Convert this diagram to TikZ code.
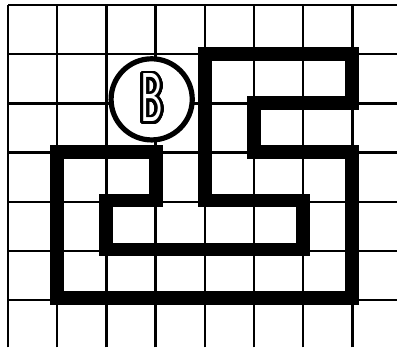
\documentclass[tikz,border=0pt]{standalone}
\usepackage{graphicx}
\usepackage[copies]{contour}
\contourlength{1.6pt}
\contournumber{40}
\tikzset{
  gridline/.style={line width=1.4pt},
  wall/.style={line width=8pt,line join=miter},
  badge/.style={circle,draw,fill=white,line width=3pt,minimum size=1.65cm,inner sep=0pt}
}
\begin{document}
\begin{tikzpicture}[x=1cm,y=0.994cm]
\useasboundingbox (-0.163,0.102) rectangle (7.907,-7.054);
\draw[gridline] (0,-7) grid (7.95,0);
\draw[wall] (1,-3) -- (3,-3) -- (3,-4) -- (2,-4) -- (2,-5) -- (6,-5) -- (6,-4) -- (4,-4)
  -- (4,-1) -- (7,-1) -- (7,-2) -- (5,-2) -- (5,-3) -- (7,-3) -- (7,-6) -- (1,-6) -- cycle;
\node[badge] (b) at (2.92,-1.93) {\sffamily\fontsize{40}{40}\selectfont\contour{black}{\color{white}\scalebox{0.52}[1]{B}}};
\end{tikzpicture}
\end{document}
